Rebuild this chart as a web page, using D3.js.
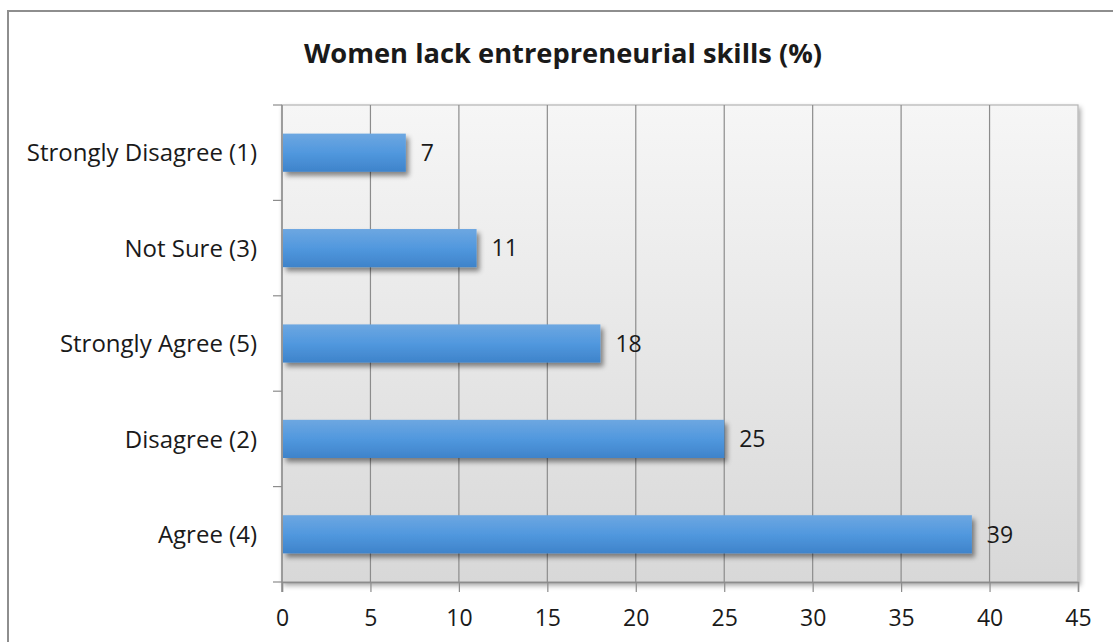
<!DOCTYPE html>
<html>
<head>
<meta charset="utf-8">
<script src="https://cdn.jsdelivr.net/npm/d3@7"></script>
<style>
  html, body { margin: 0; padding: 0; background: #fff; }
  svg { display: block; }
  text { font-family: "Open Sans", "Noto Sans", sans-serif; fill: #1a1a1a; }
</style>
</head>
<body>
<svg id="chart" width="1113" height="642"></svg>
<script>
// Survey answers, ordered top to bottom
const categories = ["Strongly Disagree (1)", "Not Sure (3)", "Strongly Agree (5)", "Disagree (2)", "Agree (4)"];
const values = [7, 11, 18, 25, 39];
const xTicks = [0, 5, 10, 15, 20, 25, 30, 35, 40, 45];
const title = "Women lack entrepreneurial skills (%)";

const W = 1113, H = 642;
const plot = { left: 282, right: 1078, top: 105, bottom: 582 };
const FONT = "'Open Sans', 'Noto Sans', sans-serif";

const svg = d3.select("#chart");
const defs = svg.append("defs");

// plot background: light at the top, darker toward the bottom
const bg = defs.append("linearGradient").attr("id", "bgGrad")
  .attr("x1", 0).attr("y1", 0).attr("x2", 0).attr("y2", 1);
bg.append("stop").attr("offset", "0%").attr("stop-color", "#f6f6f6");
bg.append("stop").attr("offset", "100%").attr("stop-color", "#d8d8d8");

// bar fill
const bar = defs.append("linearGradient").attr("id", "barGrad")
  .attr("x1", 0).attr("y1", 0).attr("x2", 0).attr("y2", 1);
bar.append("stop").attr("offset", "0%").attr("stop-color", "#6da7e1");
bar.append("stop").attr("offset", "50%").attr("stop-color", "#5198de");
bar.append("stop").attr("offset", "100%").attr("stop-color", "#3e83ca");

// soft drop shadows
const sh = defs.append("filter").attr("id", "barShadow")
  .attr("x", "-5%").attr("y", "-30%").attr("width", "115%").attr("height", "180%");
sh.append("feDropShadow").attr("dx", 3).attr("dy", 4).attr("stdDeviation", 2.5)
  .attr("flood-color", "#000").attr("flood-opacity", 0.45);

const psh = defs.append("filter").attr("id", "plotShadow")
  .attr("x", "-5%").attr("y", "-5%").attr("width", "110%").attr("height", "110%");
psh.append("feDropShadow").attr("dx", 2).attr("dy", 3).attr("stdDeviation", 2.5)
  .attr("flood-color", "#000").attr("flood-opacity", 0.35);

// outer chart frame
svg.append("rect")
  .attr("x", 8).attr("y", 11).attr("width", W + 10).attr("height", H + 10)
  .attr("fill", "#fff").attr("stroke", "#8e8e8e").attr("stroke-width", 2);

const x = d3.scaleLinear().domain([0, 45]).range([plot.left, plot.right]);
const y = d3.scaleBand().domain(categories).range([plot.top, plot.bottom])
  .paddingInner(0.6).paddingOuter(0.3);

// plot area
svg.append("rect")
  .attr("x", plot.left).attr("y", plot.top)
  .attr("width", plot.right - plot.left).attr("height", plot.bottom - plot.top)
  .attr("fill", "url(#bgGrad)").attr("stroke", "#b4b4b4").attr("stroke-width", 1.2)
  .attr("filter", "url(#plotShadow)");

// vertical gridlines
svg.append("g").selectAll("line")
  .data(xTicks.filter(t => t > 0 && t < 45))
  .join("line")
  .attr("x1", d => x(d)).attr("x2", d => x(d))
  .attr("y1", plot.top).attr("y2", plot.bottom)
  .attr("stroke", "#8c8c8c").attr("stroke-width", 1.2);

// x axis
const xAxis = svg.append("g")
  .attr("transform", `translate(0,${plot.bottom})`)
  .call(d3.axisBottom(x).tickValues(xTicks).tickSize(10).tickPadding(18));
xAxis.select(".domain").attr("stroke", "#8c8c8c").attr("stroke-width", 1.5);
xAxis.selectAll(".tick line").attr("stroke", "#8c8c8c").attr("stroke-width", 1.2);
xAxis.selectAll(".tick text")
  .style("font-size", "23px").style("font-family", FONT)
  .attr("fill", "#1a1a1a");

// y axis: ticks sit on band boundaries
const bounds = d3.range(categories.length + 1)
  .map(i => plot.top + i * (plot.bottom - plot.top) / categories.length);
svg.append("g").selectAll("line")
  .data(bounds).join("line")
  .attr("x1", plot.left - 9).attr("x2", plot.left)
  .attr("y1", d => d).attr("y2", d => d)
  .attr("stroke", "#8c8c8c").attr("stroke-width", 1.2);
svg.append("line")
  .attr("x1", plot.left).attr("x2", plot.left)
  .attr("y1", plot.top).attr("y2", plot.bottom + 10)
  .attr("stroke", "#8c8c8c").attr("stroke-width", 1.5);

svg.append("g").selectAll("text")
  .data(categories).join("text")
  .attr("x", plot.left - 25)
  .attr("y", d => y(d) + y.bandwidth() / 2)
  .attr("dy", "0.36em")
  .attr("text-anchor", "end")
  .style("font-size", "24px")
  .text(d => d);

// bars
const rows = categories.map((c, i) => ({ c, v: values[i] }));
svg.append("g").selectAll("rect")
  .data(rows).join("rect")
  .attr("x", x(0) + 1)
  .attr("y", d => y(d.c))
  .attr("width", d => x(d.v) - x(0) - 1)
  .attr("height", y.bandwidth())
  .attr("fill", "url(#barGrad)")
  .attr("filter", "url(#barShadow)");

// value labels
svg.append("g").selectAll("text")
  .data(rows).join("text")
  .attr("x", d => x(d.v) + 15)
  .attr("y", d => y(d.c) + y.bandwidth() / 2)
  .attr("dy", "0.36em")
  .style("font-size", "23px")
  .text(d => d.v);

// title
svg.append("text")
  .attr("x", 563).attr("y", 63)
  .attr("text-anchor", "middle")
  .style("font-size", "27.3px").style("font-weight", "bold")
  .text(title);
</script>
</body>
</html>
